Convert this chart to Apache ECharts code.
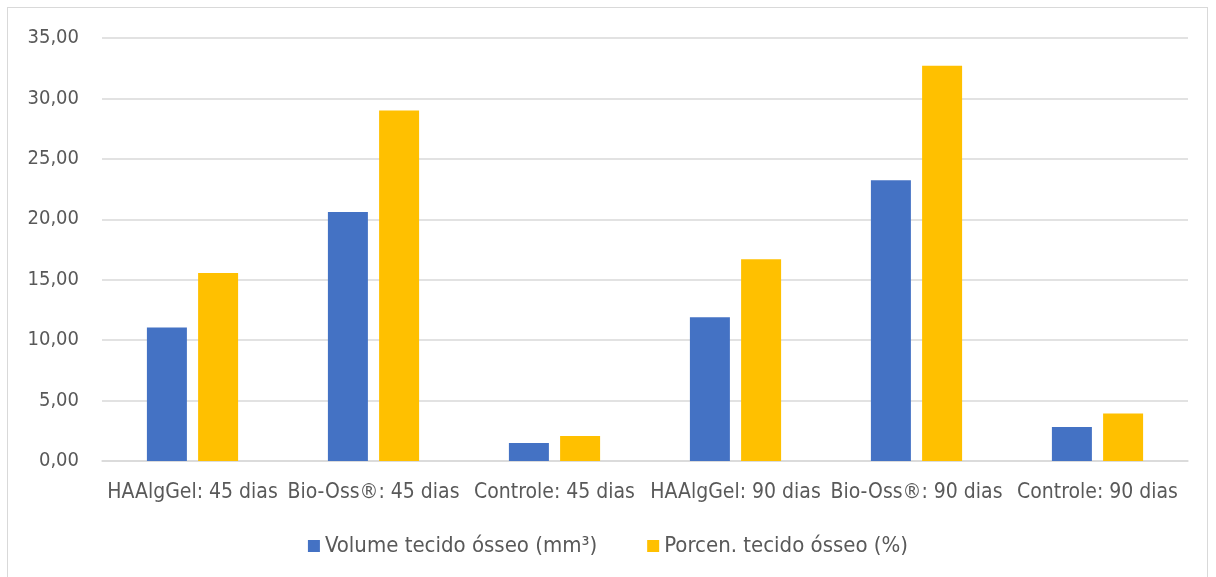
<!DOCTYPE html>
<html>
<head>
<meta charset="utf-8">
<script src="https://cdn.jsdelivr.net/npm/echarts@6/dist/echarts.min.js"></script>
<style>
html,body{margin:0;padding:0;background:#fff;}
#frame{position:absolute;left:7px;top:7px;width:1201px;height:580px;border:1px solid #d9d9d9;box-sizing:border-box;}
#c{position:absolute;left:0;top:0;width:1216px;height:577px;}
</style>
</head>
<body>
<div id="frame"></div>
<div id="c"></div>
<script>
var categories = ['HAAlgGel: 45 dias', 'Bio-Oss®: 45 dias', 'Controle: 45 dias', 'HAAlgGel: 90 dias', 'Bio-Oss®: 90 dias', 'Controle: 90 dias'];
var seriesNames = ['Volume tecido ósseo (mm³)', 'Porcen. tecido ósseo (%)'];
var volume = [11.05, 20.6, 1.49, 11.89, 23.22, 2.81];
var porcen = [15.55, 29.0, 2.07, 16.69, 32.71, 3.92];

var font = '"Liberation Sans Narrow", "DejaVu Sans Condensed", "Open Sans", sans-serif';
var chart = echarts.init(document.getElementById('c'));
chart.setOption({
  animation: false,
  textStyle: {fontFamily: font},
  grid: {left: 102, right: 28, top: 38, bottom: 116, containLabel: false},
  legend: {
    data: seriesNames,
    bottom: 15,
    left: 'center',
    itemWidth: 12, itemHeight: 12, itemGap: 50,
    icon: 'rect',
    textStyle: {fontSize: 22, color: '#595959', fontFamily: font}
  },
  xAxis: {
    type: 'category',
    data: categories,
    axisLine: {lineStyle: {color: '#d9d9d9', width: 1.5}},
    axisTick: {show: false},
    axisLabel: {fontSize: 21, color: '#595959', margin: 21, interval: 0, fontFamily: font}
  },
  yAxis: {
    type: 'value',
    min: 0, max: 35, interval: 5,
    axisLine: {show: false},
    axisTick: {show: false},
    splitLine: {lineStyle: {color: '#d9d9d9', width: 1.5}},
    axisLabel: {
      fontSize: 20, color: '#595959', margin: 23, fontFamily: font,
      formatter: function(v){ return v.toFixed(2).replace('.', ','); }
    }
  },
  series: [
    {name: seriesNames[0], type: 'bar', data: volume, barWidth: 40, barGap: '28%', itemStyle: {color: '#4472c4'}},
    {name: seriesNames[1], type: 'bar', data: porcen, barWidth: 40, itemStyle: {color: '#ffc000'}}
  ]
});
</script>
</body>
</html>
